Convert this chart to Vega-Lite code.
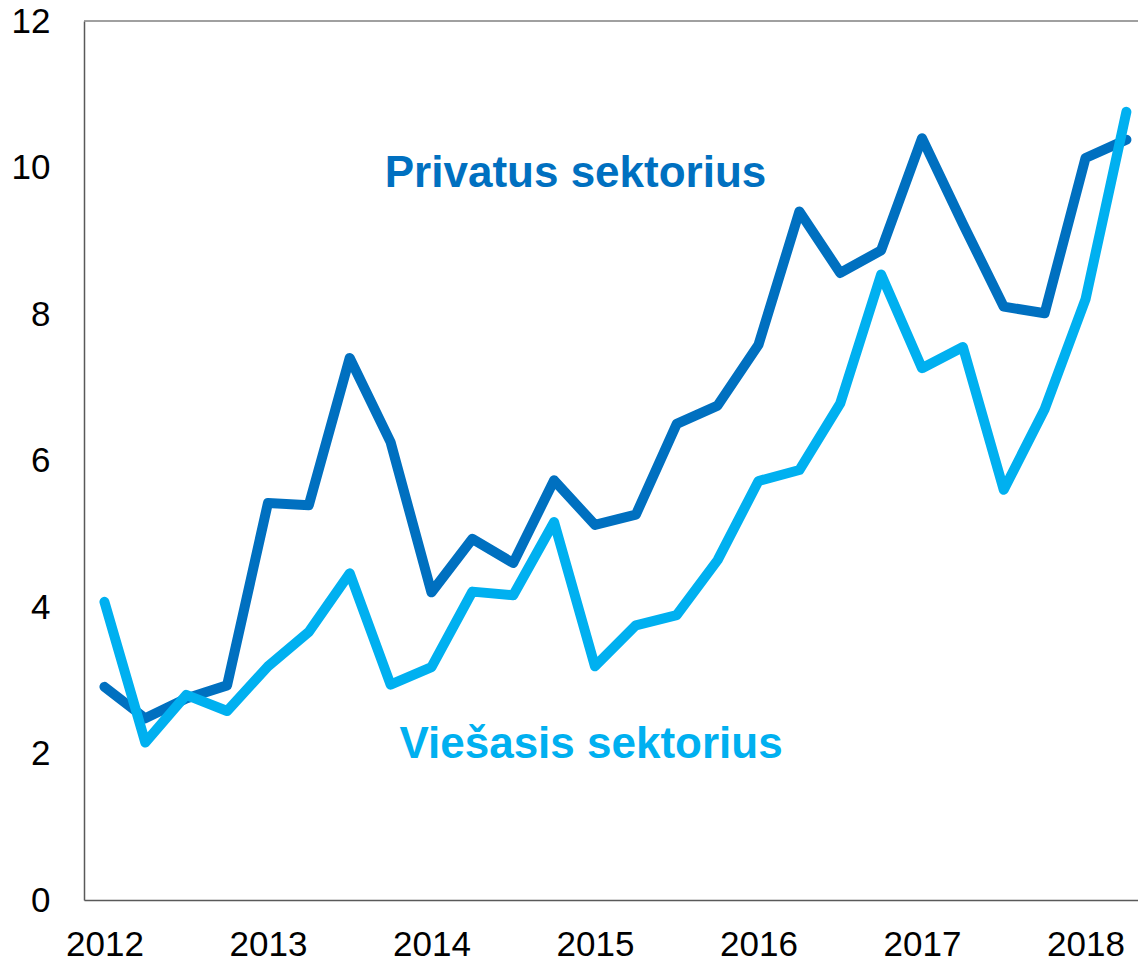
{
  "$schema": "https://vega.github.io/schema/vega-lite/v6.json",
  "width": 1054,
  "height": 879,
  "autosize": {"type": "none"},
  "padding": {"left": 84, "top": 21, "right": 0, "bottom": 63},
  "background": "white",
  "config": {
    "view": {"stroke": null},
    "font": "Liberation Sans"
  },
  "datasets": {
    "priv": [
      {"t": 2012.0, "v": 2.91}, {"t": 2012.25, "v": 2.48}, {"t": 2012.5, "v": 2.75}, {"t": 2012.75, "v": 2.93},
      {"t": 2013.0, "v": 5.42}, {"t": 2013.25, "v": 5.39}, {"t": 2013.5, "v": 7.40}, {"t": 2013.75, "v": 6.25},
      {"t": 2014.0, "v": 4.20}, {"t": 2014.25, "v": 4.93}, {"t": 2014.5, "v": 4.60}, {"t": 2014.75, "v": 5.73},
      {"t": 2015.0, "v": 5.12}, {"t": 2015.25, "v": 5.26}, {"t": 2015.5, "v": 6.50}, {"t": 2015.75, "v": 6.75},
      {"t": 2016.0, "v": 7.58}, {"t": 2016.25, "v": 9.40}, {"t": 2016.5, "v": 8.56}, {"t": 2016.75, "v": 8.87},
      {"t": 2017.0, "v": 10.40}, {"t": 2017.25, "v": 9.23}, {"t": 2017.5, "v": 8.10}, {"t": 2017.75, "v": 8.01},
      {"t": 2018.0, "v": 10.13}, {"t": 2018.25, "v": 10.38}
    ],
    "pub": [
      {"t": 2012.0, "v": 4.07}, {"t": 2012.25, "v": 2.15}, {"t": 2012.5, "v": 2.80}, {"t": 2012.75, "v": 2.58},
      {"t": 2013.0, "v": 3.19}, {"t": 2013.25, "v": 3.66}, {"t": 2013.5, "v": 4.46}, {"t": 2013.75, "v": 2.94},
      {"t": 2014.0, "v": 3.18}, {"t": 2014.25, "v": 4.21}, {"t": 2014.5, "v": 4.16}, {"t": 2014.75, "v": 5.16},
      {"t": 2015.0, "v": 3.19}, {"t": 2015.25, "v": 3.75}, {"t": 2015.5, "v": 3.89}, {"t": 2015.75, "v": 4.64},
      {"t": 2016.0, "v": 5.72}, {"t": 2016.25, "v": 5.87}, {"t": 2016.5, "v": 6.78}, {"t": 2016.75, "v": 8.54},
      {"t": 2017.0, "v": 7.26}, {"t": 2017.25, "v": 7.55}, {"t": 2017.5, "v": 5.60}, {"t": 2017.75, "v": 6.70},
      {"t": 2018.0, "v": 8.20}, {"t": 2018.25, "v": 10.76}
    ],
    "labels": [
      {"t": 2014.881, "v": 9.73, "label": "Privatus sektorius", "c": "#0070C0"},
      {"t": 2014.976, "v": 1.94, "label": "Viešasis sektorius", "c": "#00B0F0"}
    ]
  },
  "layer": [
    {
      "data": {"name": "priv"},
      "mark": {"type": "line", "color": "#0070C0", "strokeWidth": 10, "strokeCap": "round", "strokeJoin": "round"},
      "encoding": {
        "x": {
          "field": "t", "type": "quantitative",
          "scale": {"domain": [2011.875, 2018.321], "nice": false, "zero": false},
          "axis": {
            "title": null, "values": [2012, 2013, 2014, 2015, 2016, 2017, 2018], "format": "d",
            "grid": false, "ticks": false, "domainColor": "#595959", "domainWidth": 1.5,
            "labelFontSize": 35, "labelColor": "#000000", "labelPadding": 27, "labelFont": "Liberation Sans"
          }
        },
        "y": {
          "field": "v", "type": "quantitative",
          "scale": {"domain": [0, 12], "nice": false},
          "axis": {
            "title": null, "values": [0, 2, 4, 6, 8, 10, 12], "format": "d",
            "grid": false, "ticks": false, "domainColor": "#595959", "domainWidth": 1.5,
            "labelFontSize": 35, "labelColor": "#000000", "labelPadding": 34, "labelFont": "Liberation Sans",
            "labelBaseline": "middle"
          }
        }
      }
    },
    {
      "data": {"name": "pub"},
      "mark": {"type": "line", "color": "#00B0F0", "strokeWidth": 10, "strokeCap": "round", "strokeJoin": "round"},
      "encoding": {
        "x": {"field": "t", "type": "quantitative"},
        "y": {"field": "v", "type": "quantitative"}
      }
    },
    {
      "data": {"values": [{"y": 12}]},
      "mark": {"type": "rule", "color": "#808080", "strokeWidth": 1.5},
      "encoding": {"y": {"field": "y", "type": "quantitative"}}
    },
    {
      "data": {"name": "labels"},
      "mark": {"type": "text", "fontSize": 44, "fontWeight": "bold", "font": "Liberation Sans", "baseline": "alphabetic", "align": "center"},
      "encoding": {
        "x": {"field": "t", "type": "quantitative"},
        "y": {"field": "v", "type": "quantitative"},
        "text": {"field": "label"},
        "color": {"field": "c", "type": "nominal", "scale": null}
      }
    }
  ]
}
